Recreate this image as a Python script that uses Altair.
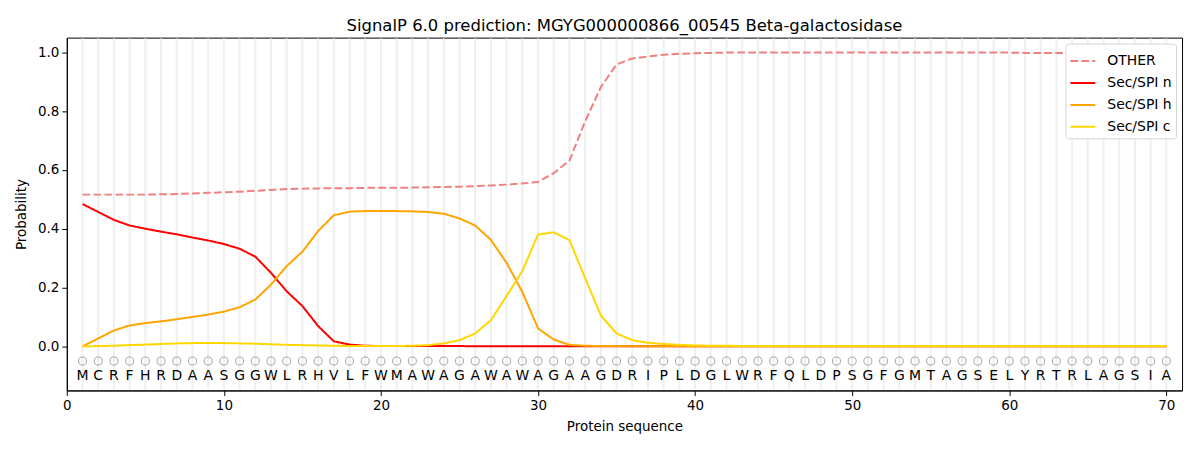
import altair as alt
import pandas as pd

sequence = list("MCRFHRDAASGGWLRHVLFWMAWAGAWAWAGAAGDRIPLDGLWRFQLDPSGFGMTAGSELYRTRLAGSIA")
positions = list(range(1, len(sequence) + 1))

other = [0.516, 0.516, 0.516, 0.516, 0.516, 0.517, 0.518, 0.520, 0.522, 0.524,
         0.526, 0.529, 0.532, 0.535, 0.536, 0.537, 0.538, 0.538, 0.539, 0.539,
         0.539, 0.540, 0.541, 0.542, 0.543, 0.545, 0.547, 0.550, 0.554, 0.559,
         0.589, 0.632, 0.765, 0.882, 0.959, 0.979, 0.986, 0.992, 0.995, 0.997,
         0.998, 0.999, 0.999, 0.999, 0.999, 0.999, 0.999, 0.999, 0.999, 0.999,
         0.999, 0.999, 0.999, 0.999, 0.999, 0.999, 0.999, 0.999, 0.999, 0.999,
         0.998, 0.998, 0.998, 0.998, 0.998, 0.998, 0.997, 0.997, 0.997, 0.997]

sec_n = [0.484, 0.457, 0.430, 0.411, 0.400, 0.390, 0.381, 0.370, 0.360, 0.348,
         0.332, 0.305, 0.250, 0.187, 0.137, 0.069, 0.017, 0.006, 0.002, 0.001,
         0.001, 0.001, 0.001, 0.001, 0.001, 0.000, 0.000, 0.000, 0.000, 0.000,
         0.000, 0.000, 0.000, 0.000, 0.000, 0.000, 0.000, 0.000, 0.000, 0.000,
         0.000, 0.000, 0.000, 0.000, 0.000, 0.000, 0.000, 0.000, 0.000, 0.000,
         0.000, 0.000, 0.000, 0.000, 0.000, 0.000, 0.000, 0.000, 0.000, 0.000,
         0.000, 0.000, 0.000, 0.000, 0.000, 0.000, 0.000, 0.000, 0.000, 0.000]

sec_h = [0.000, 0.027, 0.054, 0.071, 0.079, 0.085, 0.092, 0.100, 0.108, 0.118,
         0.133, 0.159, 0.210, 0.273, 0.322, 0.392, 0.446, 0.458, 0.460, 0.460,
         0.460, 0.459, 0.457, 0.451, 0.435, 0.411, 0.362, 0.284, 0.185, 0.061,
         0.023, 0.005, 0.002, 0.001, 0.001, 0.000, 0.000, 0.000, 0.000, 0.000,
         0.000, 0.000, 0.000, 0.000, 0.000, 0.000, 0.000, 0.000, 0.000, 0.000,
         0.000, 0.000, 0.000, 0.000, 0.000, 0.000, 0.000, 0.000, 0.000, 0.000,
         0.000, 0.000, 0.000, 0.000, 0.000, 0.000, 0.000, 0.000, 0.000, 0.000]

sec_c = [0.000, 0.001, 0.002, 0.004, 0.006, 0.008, 0.010, 0.011, 0.011, 0.011,
         0.010, 0.009, 0.007, 0.005, 0.004, 0.003, 0.002, 0.001, 0.001, 0.001,
         0.001, 0.002, 0.004, 0.010, 0.021, 0.044, 0.089, 0.171, 0.256, 0.380,
         0.388, 0.361, 0.232, 0.105, 0.044, 0.021, 0.012, 0.008, 0.005, 0.003,
         0.002, 0.002, 0.001, 0.001, 0.001, 0.001, 0.001, 0.001, 0.001, 0.001,
         0.001, 0.001, 0.001, 0.001, 0.001, 0.001, 0.001, 0.001, 0.001, 0.001,
         0.001, 0.001, 0.001, 0.001, 0.001, 0.001, 0.001, 0.001, 0.001, 0.001]

series_names = ["OTHER", "Sec/SPI n", "Sec/SPI h", "Sec/SPI c"]
series_colors = ["#f08080", "#ff0000", "#ffa500", "#ffd700"]
series_dash = [[7.7, 3.3], [1, 0], [1, 0], [1, 0]]

rows = []
for name, vals in zip(series_names, [other, sec_n, sec_h, sec_c]):
    for p, v in zip(positions, vals):
        rows.append({"pos": p, "prob": v, "series": name})
lines_df = pd.DataFrame(rows)

seq_df = pd.DataFrame({"pos": positions, "aa": sequence,
                       "circ_y": [-0.05] * len(positions),
                       "txt_y": [-0.1] * len(positions)})

FONT = "DejaVu Sans"
PLOT_H = 354

x_scale = alt.Scale(domain=[0, 71], nice=False, zero=False)
y_scale = alt.Scale(domain=[-0.15, 1.05], nice=False, zero=False)

x_axis = alt.Axis(values=[0, 10, 20, 30, 40, 50, 60, 70], title="Protein sequence",
                  grid=False, format="d", labelFlush=False, titlePadding=8)
y_axis = alt.Axis(values=[0.0, 0.2, 0.4, 0.6, 0.8, 1.0], title="Probability",
                  grid=False, format=".1f", titlePadding=9)

grid = alt.Chart(seq_df).mark_rule(color="#efefef", strokeWidth=2).encode(
    x=alt.X("pos:Q", scale=x_scale, axis=x_axis),
    y=alt.value(1),
    y2=alt.value(PLOT_H - 1),
)

lines = alt.Chart(lines_df).mark_line(strokeWidth=2).encode(
    x=alt.X("pos:Q", scale=x_scale, axis=x_axis),
    y=alt.Y("prob:Q", scale=y_scale, axis=y_axis),
    color=alt.Color("series:N", scale=alt.Scale(domain=series_names, range=series_colors),
                    legend=alt.Legend(title=None)),
    strokeDash=alt.StrokeDash("series:N", scale=alt.Scale(domain=series_names, range=series_dash),
                              legend=alt.Legend(title=None)),
    order=alt.Order("pos:Q"),
)

circles = alt.Chart(seq_df).mark_point(shape="circle", filled=False, color="#808080",
                                        size=65, strokeWidth=1).encode(
    x=alt.X("pos:Q", scale=x_scale),
    y=alt.Y("circ_y:Q", scale=y_scale),
)

letters = alt.Chart(seq_df).mark_text(font=FONT, fontSize=14, color="black",
                                       baseline="middle", align="center").encode(
    x=alt.X("pos:Q", scale=x_scale),
    y=alt.Y("txt_y:Q", scale=y_scale),
    text="aa:N",
)

chart = alt.layer(grid, lines, circles, letters).properties(
    width=1119,
    height=PLOT_H,
    title=alt.TitleParams("SignalP 6.0 prediction: MGYG000000866_00545 Beta-galactosidase",
                          font=FONT, fontSize=16.5, fontWeight="normal", color="black",
                          anchor="middle", offset=3),
    autosize=alt.AutoSizeParams(type="none"),
    padding={"left": 59, "top": 29, "right": 10, "bottom": 45},
).configure_view(
    stroke="black", strokeWidth=1
).configure_axis(
    labelFont=FONT, labelFontSize=13.5, labelColor="black",
    titleFont=FONT, titleFontSize=13.5, titleFontWeight="normal", titleColor="black",
    tickColor="black", tickSize=5, tickWidth=1, domainColor="black", domainWidth=1,
    labelPadding=3,
).configure_legend(
    orient="top-right", offset=6, fillColor="white", strokeColor="#d5d5d5",
    cornerRadius=3, padding=4, labelFont=FONT, labelFontSize=14, labelColor="black",
    symbolType="stroke", symbolSize=625, symbolStrokeWidth=2, labelOffset=11,
    rowPadding=1,
)

chart.save("out.html", embed_options={"renderer": "svg", "actions": False})
